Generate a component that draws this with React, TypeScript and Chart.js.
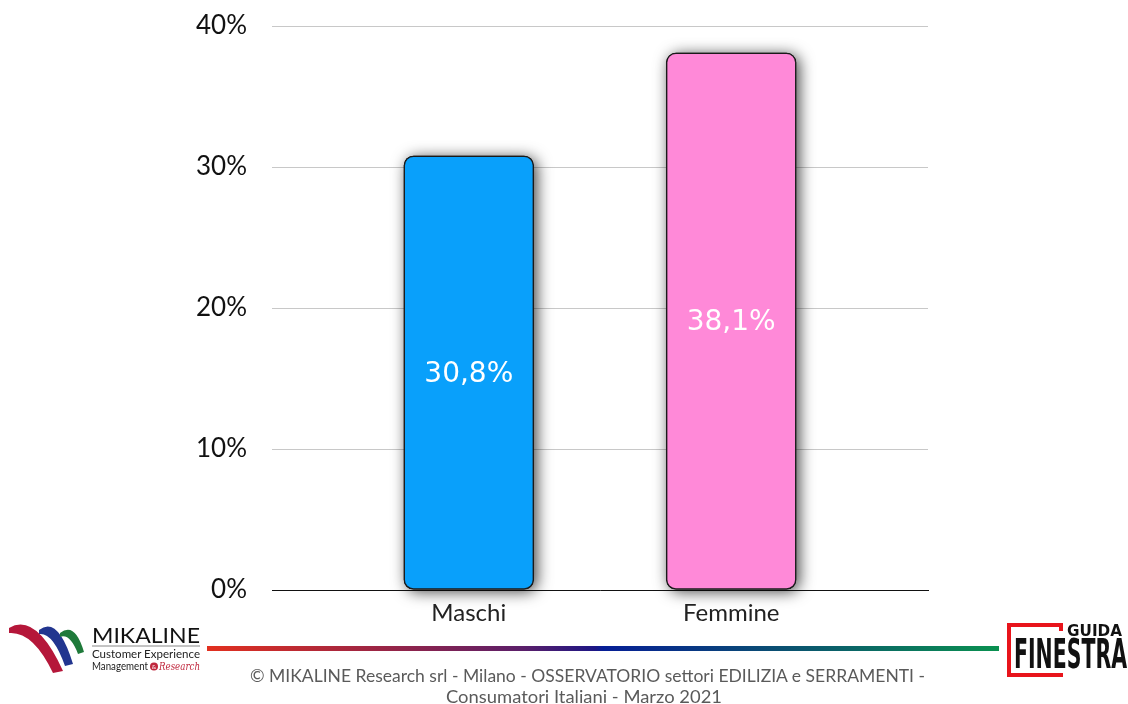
import React, { useEffect, useRef } from "react";
import { Chart, registerables } from "chart.js";

Chart.register(...registerables);

// Survey share by gender
const categories = ["Maschi", "Femmine"];
const values = [30.8, 38.1];
const yTickValues = [0, 10, 20, 30, 40];
const barColors = ["#09A0FB", "#FF89D8"];

const footerLine1 = "© MIKALINE Research srl -  Milano - OSSERVATORIO settori EDILIZIA e SERRAMENTI -";
const footerLine2 = "Consumatori Italiani  - Marzo 2021";

const fmt = (v: number) => v.toFixed(1).replace(".", ",") + "%";

const BAR_RADIUS = 10;

// Soft drop shadow behind the bars, plus value labels centred inside them
const barShadow = {
  id: "barShadow",
  beforeDatasetsDraw(chart: any) {
    const ctx = chart.ctx;
    const meta = chart.getDatasetMeta(0);
    ctx.save();
    ctx.shadowColor = "rgba(0,0,0,0.75)";
    ctx.shadowBlur = 15;
    ctx.shadowOffsetX = 3;
    ctx.shadowOffsetY = 2;
    ctx.fillStyle = "#333";
    meta.data.forEach((el: any) => {
      const p = el.getProps(["x", "y", "base", "width"], true);
      const top = Math.min(p.y, p.base);
      const h = Math.abs(p.base - p.y);
      ctx.beginPath();
      ctx.roundRect(p.x - p.width / 2, top, p.width, h, BAR_RADIUS);
      ctx.fill();
    });
    ctx.restore();
  },
  afterDatasetsDraw(chart: any) {
    const ctx = chart.ctx;
    const meta = chart.getDatasetMeta(0);
    ctx.save();
    ctx.fillStyle = "#ffffff";
    ctx.font = "28px 'DejaVu Sans'";
    ctx.textAlign = "center";
    ctx.textBaseline = "middle";
    meta.data.forEach((el: any, i: number) => {
      const p = el.getProps(["x", "y", "base"], true);
      ctx.fillText(fmt(values[i]), p.x, (p.y + p.base) / 2 + 2);
    });
    ctx.restore();
  },
};

function MikalineLogo() {
  return (
    <g>
      <path d="M9,628 Q36,612 63,671 L53,673 Q33,631 9,633 Z" fill="#b5173a" />
      <path d="M39,630 Q58,615 73,664 L65,666 Q53,632 39,634 Z" fill="#22358f" />
      <path d="M60,633 Q75,621 84,652 L78,654 Q70,633 60,637 Z" fill="#1f7a3a" />
      <text x={92} y={643} fontFamily="Lato" fontSize={22} fill="#111" textLength={108} lengthAdjust="spacingAndGlyphs">MIKALINE</text>
      <line x1={92} y1={646} x2={200} y2={646} stroke="#888" strokeWidth={1} />
      <text x={92} y={658} fontFamily="Lato" fontSize={11} fill="#222" textLength={108} lengthAdjust="spacingAndGlyphs">Customer  Experience</text>
      <text x={92} y={670} fontFamily="Lato" fontSize={10.5} fill="#222" textLength={56} lengthAdjust="spacingAndGlyphs">Management</text>
      <circle cx={154} cy={666.5} r={4} fill="#c0283e" />
      <text x={154} y={669} fontFamily="Lato" fontSize={6} fill="#fff" textAnchor="middle">&amp;</text>
      <text x={159} y={670} fontFamily="'DejaVu Serif'" fontStyle="italic" fontSize={11} fill="#c0283e" textLength={41} lengthAdjust="spacingAndGlyphs">Research</text>
    </g>
  );
}

function GuidaFinestraLogo() {
  return (
    <g>
      <path d="M1007,623 H1063 V631 H1059 V627 H1011 V673 H1063 V677 H1007 Z" fill="#e8141b" />
      <text x={1067} y={636} fontFamily="'DejaVu Sans'" fontWeight="bold" fontSize={15} fill="#111" textLength={55} lengthAdjust="spacingAndGlyphs">GUIDA</text>
      <text x={1014} y={668} fontFamily="'DejaVu Sans Condensed', 'DejaVu Sans'" fontWeight="bold" fontSize={41} fill="#111" textLength={113} lengthAdjust="spacingAndGlyphs">FINESTRA</text>
    </g>
  );
}

function Footer() {
  return (
    <svg width={1128} height={704} style={{ position: "absolute", left: 0, top: 0, pointerEvents: "none" }}>
      <defs>
        <linearGradient id="rule" x1="0" y1="0" x2="1" y2="0">
          <stop offset="0" stopColor="#e2301f" />
          <stop offset="0.22" stopColor="#9a2545" />
          <stop offset="0.4" stopColor="#5a1f6a" />
          <stop offset="0.49" stopColor="#1d1685" />
          <stop offset="0.5" stopColor="#061e96" />
          <stop offset="0.72" stopColor="#0a4f72" />
          <stop offset="1" stopColor="#0a9150" />
        </linearGradient>
      </defs>
      <rect x={207} y={646} width={792} height={5} fill="url(#rule)" />
      <MikalineLogo />
      <GuidaFinestraLogo />
      <text x={250} y={682} fontFamily="Lato" fontSize={17} fill="#5a5a5a" textLength={675} lengthAdjust="spacingAndGlyphs">{footerLine1}</text>
      <text x={446} y={703} fontFamily="Lato" fontSize={17} fill="#5a5a5a" textLength={276} lengthAdjust="spacingAndGlyphs">{footerLine2}</text>
    </svg>
  );
}

export default function App() {
  const canvasRef = useRef<HTMLCanvasElement | null>(null);

  useEffect(() => {
    if (!canvasRef.current) return;
    const chart = new Chart(canvasRef.current, {
      type: "bar",
      data: {
        datasets: [
          {
            data: values.map((v, i) => ({ x: i, y: v })),
            backgroundColor: barColors,
            borderColor: "#1a1a1a",
            borderWidth: 1.5,
            borderRadius: BAR_RADIUS,
            borderSkipped: false,
            barThickness: 130,
          },
        ],
      },
      options: {
        animation: false,
        responsive: false,
        devicePixelRatio: 1,
        layout: { padding: { top: 26, right: 200, left: 0, bottom: 0 } },
        plugins: {
          legend: { display: false },
          tooltip: { enabled: false },
        },
        scales: {
          x: {
            type: "linear",
            min: -0.75,
            max: 1.75,
            offset: false,
            grid: { display: false, drawTicks: false, offset: false },
            border: { display: true, color: "#111", width: 1 },
            afterBuildTicks: (scale: any) => {
              scale.ticks = categories.map((_, i) => ({ value: i }));
            },
            afterFit: (scale: any) => {
              scale.height = 114;
              scale.paddingLeft = 0;
              scale.paddingRight = 0;
            },
            ticks: {
              padding: 9,
              color: "#222",
              font: { family: "Lato", size: 24 },
              callback: (v: any) => categories[Math.round(Number(v))] ?? "",
            },
          },
          y: {
            min: 0,
            max: 40,
            afterBuildTicks: (scale: any) => {
              scale.ticks = yTickValues.map((v) => ({ value: v }));
            },
            afterFit: (scale: any) => {
              scale.width = 272;
              scale.paddingTop = 0;
              scale.paddingBottom = 0;
            },
            grid: { color: "#c8c8c8", lineWidth: 1, drawTicks: false },
            border: { display: false },
            ticks: {
              padding: 25,
              color: "#111",
              font: { family: "Lato", size: 26 },
              callback: (v: any) => v + "%",
            },
          },
        },
      },
      plugins: [barShadow],
    });
    return () => chart.destroy();
  }, []);

  return (
    <div style={{ position: "fixed", left: 0, top: 0, width: 1128, height: 704, background: "#fff" }}>
      <canvas ref={canvasRef} width={1128} height={704} style={{ position: "absolute", left: 0, top: 0 }} />
      <Footer />
    </div>
  );
}
